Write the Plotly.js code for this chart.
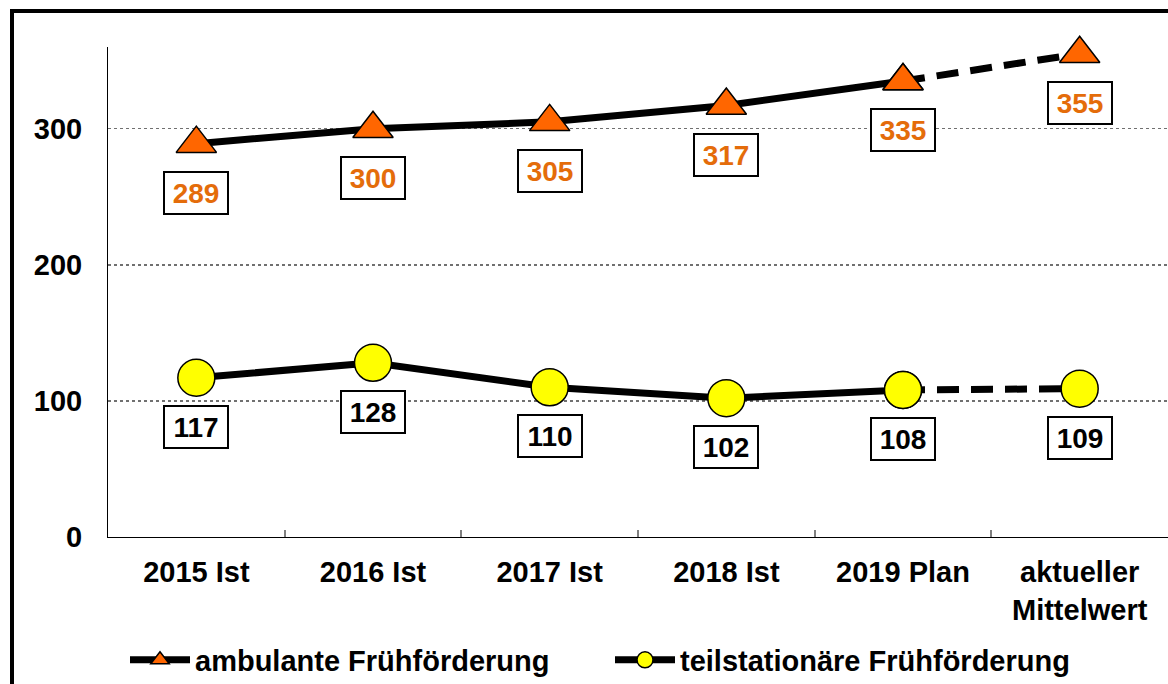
<!DOCTYPE html>
<html>
<head>
<meta charset="utf-8">
<script src="https://cdn.plot.ly/plotly-3.0.1.min.js"></script>
<style>
  html, body { margin: 0; padding: 0; background: #fff; }
  #wrap { position: relative; width: 1168px; height: 684px; overflow: hidden; }
  #chart { position: absolute; left: 0; top: 0; width: 1168px; height: 684px; }
  #frame { position: absolute; left: 10px; top: 9px; width: 1180px; height: 700px;
           border: 4px solid #000; pointer-events: none; box-sizing: border-box; }
</style>
</head>
<body>
<div id="wrap">
  <div id="chart"></div>
  <div id="frame"></div>
</div>
<script>
// ---- data ----
const categories = ["2015 Ist", "2016 Ist", "2017 Ist", "2018 Ist", "2019 Plan", "aktueller<br>Mittelwert"];
const ambulante = [289, 300, 305, 317, 335, 355];
const teilstationaer = [117, 128, 110, 102, 108, 109];
const seriesNames = ["ambulante Frühförderung", "teilstationäre Frühförderung"];
const yTicks = [0, 100, 200, 300];

// last category is drawn with a dashed connection
const lastActual = 4;

const FONT = "Arial, 'Liberation Sans', sans-serif";
const orangeFill = "#FF6600";
const orangeText = "#E46C0A";

function seriesTraces(values, name, marker) {
  const solid = {
    x: categories.slice(0, lastActual + 1),
    y: values.slice(0, lastActual + 1),
    name: name,
    mode: "lines+markers",
    line: { color: "#000", width: 7 },
    marker: marker,
    cliponaxis: false,
    hoverinfo: "skip",
    showlegend: true
  };
  const dashed = {
    x: categories.slice(lastActual),
    y: values.slice(lastActual),
    name: name,
    mode: "lines+markers",
    line: { color: "#000", width: 7, dash: "22px,12px" },
    marker: marker,
    cliponaxis: false,
    hoverinfo: "skip",
    showlegend: false
  };
  return [dashed, solid];
}

const triMarker = { symbol: "triangle-up", size: 35, color: orangeFill, line: { color: "#000", width: 1.5 } };
const circMarker = { symbol: "circle", size: 37, color: "#FFFF00", line: { color: "#000", width: 1.5 } };

const traces = [
  ...seriesTraces(ambulante, seriesNames[0], triMarker),
  ...seriesTraces(teilstationaer, seriesNames[1], circMarker)
];

function labelAnnotations(values, color) {
  return values.map((v, i) => ({
    x: categories[i], y: v, xref: "x", yref: "y",
    text: String(v), showarrow: false,
    yshift: -49,
    font: { family: FONT, size: 28, color: color, weight: "bold" },
    bgcolor: "#fff", bordercolor: "#000", borderwidth: 2, borderpad: 3,
    width: 56, height: 34
  }));
}

const layout = {
  width: 1168, height: 684,
  margin: { l: 108, r: 0, t: 47, b: 147 },
  paper_bgcolor: "#fff", plot_bgcolor: "#fff",
  font: { family: FONT, size: 29, color: "#000", weight: "bold" },
  showlegend: true,
  xaxis: {
    type: "category",
    categoryorder: "array", categoryarray: categories,
    range: [-0.5, 5.5],
    showline: true, linecolor: "#000", linewidth: 1,
    showgrid: false, zeroline: false,
    ticks: "inside", tickson: "boundaries", ticklen: 7, tickwidth: 2, tickcolor: "#808080",
    ticklabelstandoff: 9,
    tickfont: { family: FONT, size: 29, color: "#000", weight: "bold" },
    fixedrange: true
  },
  yaxis: {
    range: [0, 360],
    tickvals: yTicks, ticktext: yTicks.map(String),
    showline: true, linecolor: "#000", linewidth: 1,
    showgrid: true, gridcolor: "#707070", gridwidth: 1.5, griddash: "dot",
    zeroline: false, ticks: "",
    ticklabelstandoff: 19,
    tickfont: { family: FONT, size: 29, color: "#000", weight: "bold" },
    fixedrange: true
  },
  legend: {
    orientation: "h",
    xref: "container", yref: "container",
    x: 125 / 1168, xanchor: "left",
    y: 1 - 660 / 684, yanchor: "middle",
    font: { family: FONT, size: 29, color: "#000", weight: "bold" },
    itemwidth: 60,
    entrywidth: 410, entrywidthmode: "pixels",
    bgcolor: "rgba(0,0,0,0)", borderwidth: 0,
    traceorder: "normal"
  },
  annotations: [
    ...labelAnnotations(ambulante, orangeText),
    ...labelAnnotations(teilstationaer, "#000")
  ]
};

Plotly.newPlot("chart", traces, layout, { displayModeBar: false, staticPlot: true });
</script>
</body>
</html>
